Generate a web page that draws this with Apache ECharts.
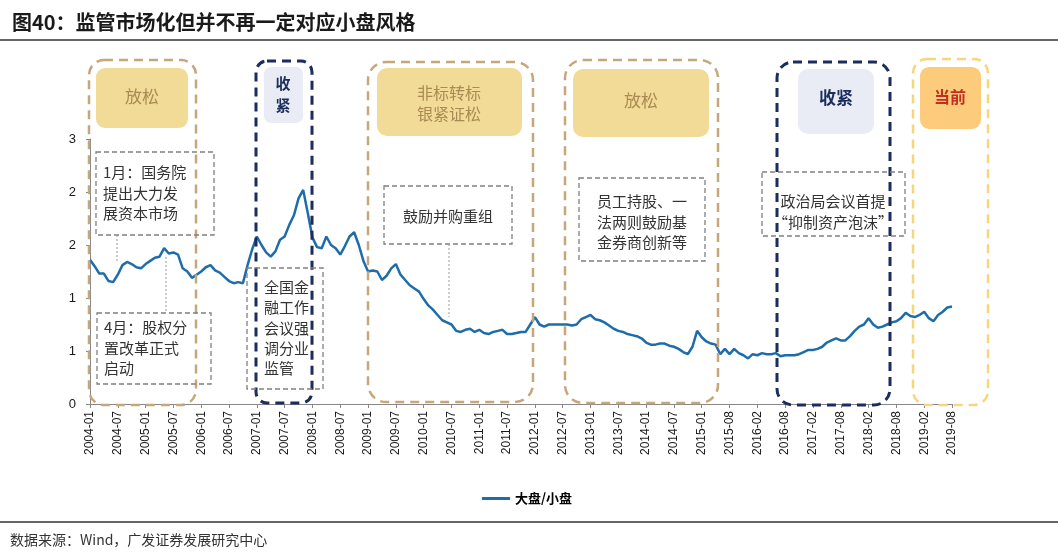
<!DOCTYPE html>
<html><head><meta charset="utf-8">
<script src="https://cdn.jsdelivr.net/npm/echarts@6/dist/echarts.min.js"></script>
<style>html,body{margin:0;padding:0;background:#fff}#c{width:1058px;height:556px}</style>
</head><body><div id="c"></div>
<script>
// x-axis tick labels (one every 6 data points)
const tickLabels = ['2004-01','2004-07','2005-01','2005-07','2006-01','2006-07','2007-01','2007-07',
  '2008-01','2008-07','2009-01','2009-07','2010-01','2010-07','2011-01','2011-07','2012-01','2012-07',
  '2013-01','2013-07','2014-01','2014-07','2015-01','2015-08','2016-02','2016-08','2017-02','2017-08',
  '2018-02','2018-08','2019-02','2019-08'];
const pointsPerTick = 6;
// 大盘/小盘 ratio
const ratio = [
  1.36,1.30,1.23,1.23,1.16,1.15,
  1.22,1.31,1.34,1.32,1.29,1.28,
  1.32,1.35,1.38,1.39,1.47,1.42,
  1.43,1.41,1.28,1.25,1.19,1.22,
  1.25,1.29,1.31,1.26,1.24,1.20,
  1.16,1.14,1.15,1.14,1.31,1.46,
  1.58,1.50,1.43,1.39,1.44,1.55,
  1.58,1.69,1.78,1.94,2.02,1.80,
  1.57,1.48,1.47,1.58,1.50,1.47,
  1.41,1.49,1.58,1.62,1.50,1.35,
  1.25,1.26,1.25,1.17,1.21,1.28,
  1.32,1.22,1.17,1.12,1.09,1.06,
  0.99,0.93,0.89,0.84,0.79,0.77,
  0.75,0.69,0.68,0.70,0.71,0.68,
  0.70,0.67,0.66,0.68,0.69,0.70,
  0.66,0.66,0.67,0.68,0.68,0.75,
  0.82,0.75,0.73,0.75,0.75,0.75,
  0.75,0.75,0.74,0.75,0.80,0.82,
  0.84,0.80,0.79,0.77,0.74,0.71,
  0.69,0.68,0.66,0.65,0.64,0.62,
  0.58,0.56,0.56,0.57,0.57,0.55,
  0.54,0.52,0.49,0.47,0.54,0.69,
  0.63,0.59,0.57,0.56,0.47,0.52,
  0.47,0.52,0.48,0.46,0.43,0.47,
  0.46,0.48,0.47,0.47,0.48,0.45,
  0.46,0.46,0.46,0.47,0.49,0.51,
  0.51,0.52,0.54,0.58,0.60,0.62,
  0.60,0.60,0.64,0.69,0.73,0.75,
  0.81,0.75,0.72,0.73,0.75,0.77,
  0.78,0.81,0.86,0.83,0.82,0.84,
  0.87,0.81,0.78,0.84,0.87,0.91,
  0.92
];
const yTickLabels = ['0','1','1','2','2','3'];
const seriesName = '大盘/小盘';
const titleText = '图40：监管市场化但并不再一定对应小盘风格';
const sourceText = '数据来源：Wind，广发证券发展研究中心';

const categories = ratio.map((v, i) => i % pointsPerTick === 0 ? tickLabels[i / pointsPerTick] : '');

const CJK = '"Noto Sans CJK SC", sans-serif';
const TAN = '#C6A77C', NAVY = '#1B2D5C', GOLD_FILL = '#F2DB96', GOLD_TXT = '#A98A55';
const GRAY = '#808080';

function bigBox(x, y, w, h, r, color, lw) {
  return { type: 'rect', z: 10, shape: { x, y, width: w, height: h, r },
    style: { fill: 'none', stroke: color, lineWidth: lw, lineDash: [9, 6] } };
}
function fillBox(x, y, w, h, r, color) {
  return { type: 'rect', z: 9, shape: { x, y, width: w, height: h, r }, style: { fill: color } };
}
function label(x, y, text, size, color, weight, align, lh) {
  return { type: 'text', z: 12, x, y, style: { text, fontSize: size, fontFamily: CJK, fontWeight: weight || 'normal',
    fill: color, align: align || 'center', verticalAlign: 'middle', lineHeight: lh || size + 6 } };
}
function noteBox(x, y, w, h) {
  return { type: 'rect', z: 11, shape: { x, y, width: w, height: h },
    style: { fill: 'none', stroke: GRAY, lineWidth: 1.3, lineDash: [5, 3] } };
}
function vline(x, y1, y2) {
  return { type: 'line', z: 11, shape: { x1: x, y1, x2: x, y2 },
    style: { stroke: '#999', lineWidth: 1, lineDash: [2, 2] } };
}

const chart = echarts.init(document.getElementById('c'), null, { renderer: 'canvas' });
chart.setOption({
  animation: false,
  backgroundColor: '#fff',
  grid: { left: 90, right: 106, top: 139, bottom: 152 },
  legend: {
    data: [{ name: seriesName, icon: 'rect' }], left: 477, top: 487, itemWidth: 28, itemHeight: 3, itemGap: 10,
    textStyle: { fontFamily: CJK, fontWeight: 'bold', fontSize: 13, color: '#000' }
  },
  xAxis: {
    type: 'category', data: categories, boundaryGap: false,
    axisLine: { lineStyle: { color: '#888', width: 1 } },
    axisTick: { interval: pointsPerTick - 1, length: 4, lineStyle: { color: '#888' } },
    axisLabel: { interval: pointsPerTick - 1, rotate: 90, margin: 7, fontSize: 12,
      fontFamily: '"Liberation Sans", Arial, sans-serif', color: '#1a1a1a' },
    splitLine: { show: false }
  },
  yAxis: {
    type: 'value', min: 0, max: 2.5, interval: 0.5,
    axisLine: { show: true, lineStyle: { color: '#888', width: 1 } },
    axisTick: { show: true, length: 4, lineStyle: { color: '#888' } },
    axisLabel: { margin: 14, fontSize: 13, fontFamily: '"Liberation Sans", Arial, sans-serif', color: '#1a1a1a',
      formatter: (v, i) => yTickLabels[i] },
    splitLine: { show: false }
  },
  series: [{
    name: seriesName, type: 'line', data: ratio, symbol: 'none', smooth: false,
    lineStyle: { color: '#1E6DAA', width: 2.5 }, itemStyle: { color: '#1E6DAA' }
  }],
  graphic: [
    // title and rules
    { type: 'text', x: 12, y: 22, style: { text: titleText, fontSize: 20, fontFamily: CJK, fontWeight: 'bold',
      fill: '#1a1a1a', verticalAlign: 'middle' } },
    { type: 'line', shape: { x1: 0, y1: 40, x2: 1058, y2: 40 }, style: { stroke: '#333', lineWidth: 1.5 } },
    { type: 'line', shape: { x1: 0, y1: 522, x2: 1058, y2: 522 }, style: { stroke: '#333', lineWidth: 1.5 } },
    { type: 'text', x: 10, y: 540, style: { text: sourceText, fontSize: 14, fontFamily: CJK, fill: '#333',
      verticalAlign: 'middle' } },

    // regime boxes
    bigBox(89, 60, 107, 345, 15, TAN, 2.5),
    fillBox(96, 68, 92, 60, 9, GOLD_FILL),
    label(142, 97, '放松', 17, GOLD_TXT),

    bigBox(256, 61, 56, 342, 11, NAVY, 3),
    fillBox(264, 67, 39, 56, 7, '#E9ECF4'),
    label(283, 94, '收\n紧', 15, NAVY, 'bold', 'center', 22),

    bigBox(368, 62, 165, 340, 18, TAN, 2.5),
    fillBox(377, 68, 145, 68, 10, GOLD_FILL),
    label(449, 103, '非标转标\n银紧证松', 16, GOLD_TXT, 'normal', 'center', 21),

    bigBox(565, 60, 153, 343, 18, TAN, 2.5),
    fillBox(573, 69, 136, 68, 10, GOLD_FILL),
    label(641, 101, '放松', 17, GOLD_TXT),

    bigBox(777, 62, 113, 343, 16, NAVY, 3),
    fillBox(798, 69, 76, 65, 10, '#E9ECF4'),
    label(836, 98, '收紧', 17, NAVY, 'bold'),

    bigBox(913, 59, 75, 346, 14, '#F7D57C', 2.5),
    fillBox(920, 67, 61, 62, 9, '#FCCB7C'),
    label(950, 97, '当前', 16, '#C0301E', 'bold'),

    // annotation boxes
    noteBox(96, 152, 118, 83),
    label(103, 193, '1月：国务院\n提出大力发\n展资本市场', 15, '#333', 'normal', 'left', 20.5),
    vline(117, 235, 263),

    noteBox(97, 313, 114, 71),
    label(104, 348, '4月：股权分\n置改革正式\n启动', 15, '#333', 'normal', 'left', 20.5),
    vline(166, 257, 313),

    noteBox(247, 268, 76, 121),
    label(264, 328, '全国金\n融工作\n会议强\n调分业\n监管', 15, '#333', 'normal', 'left', 20.3),

    noteBox(384, 186, 128, 58),
    label(448, 216, '鼓励并购重组', 15, '#333'),
    vline(449, 244, 317),

    noteBox(579, 178, 126, 83),
    label(642, 222, '员工持股、一\n法两则鼓励基\n金券商创新等', 15, '#333', 'normal', 'center', 20.5),

    noteBox(762, 172, 143, 64),
    label(833, 212, '政治局会议首提\n“抑制资产泡沫”', 15, '#333', 'normal', 'center', 21)
  ]
});
</script>
</body></html>
